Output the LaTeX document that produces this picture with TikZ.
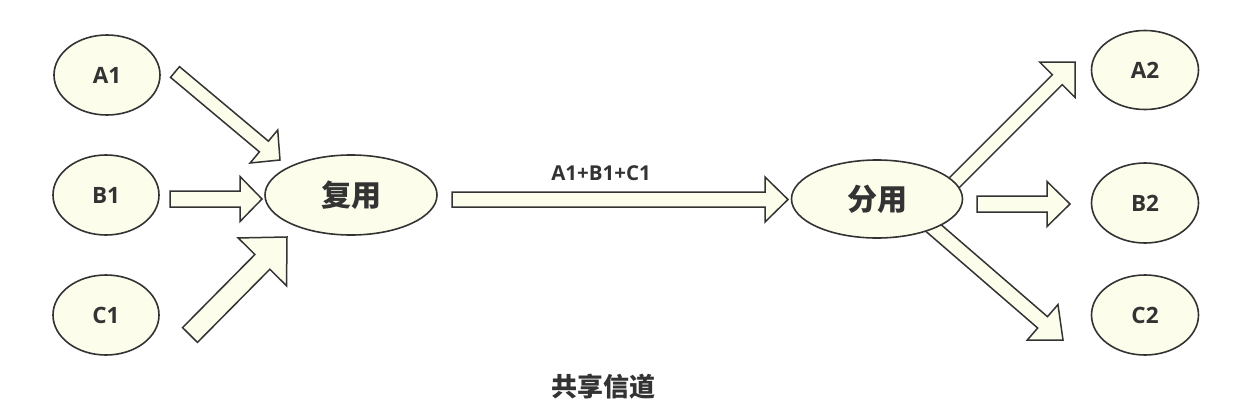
\documentclass[tikz,border=0pt]{standalone}
\usepackage{fontspec}
\setmainfont{Open Sans}
\newfontfamily\cjk{Noto Sans CJK SC}
\usetikzlibrary{shapes.geometric,calc}
\definecolor{cream}{HTML}{FDFDEC}
\definecolor{ink}{HTML}{333333}
\tikzset{
  ell/.style={ellipse,draw=ink,fill=cream,line width=1.6pt,inner sep=0pt,text=ink,font=\bfseries\fontsize{22.5}{22.5}\selectfont},
  bigell/.style={ell,font=\cjk\bfseries\fontsize{30}{30}\selectfont},
  barrow/.style={draw=ink,fill=cream,line width=1.5pt,line join=miter},
  lbl/.style={text=ink,inner sep=0pt}
}
\newcommand\blockarr[5]{%
  \coordinate (tmpX) at ($(#2)!#5!(#1)$);
  \draw[barrow] ($(#1)!#3!90:(#2)$) -- ($(tmpX)!#3!-90:(#1)$) -- ($(tmpX)!#4!-90:(#1)$) -- (#2)
     -- ($(tmpX)!#4!90:(#1)$) -- ($(tmpX)!#3!90:(#1)$) -- ($(#1)!#3!-90:(#2)$) -- cycle;}
\begin{document}
\begin{tikzpicture}[x=1pt,y=-1pt]
\useasboundingbox[fill=white] (0,0) rectangle (1253,415);
% coordinates for arrow ends
\coordinate (sa1) at (175,72);  \coordinate (ta1) at (280,160);
\coordinate (sb1) at (170,199); \coordinate (tb1) at (262,199);
\coordinate (sc1) at (190,335); \coordinate (tc1) at (287,237);
\coordinate (sm) at (452,199.5); \coordinate (tm) at (788,199.5);
\coordinate (sa2) at (952,185); \coordinate (ta2) at (1075,62);
\coordinate (sb2) at (977,204); \coordinate (tb2) at (1070,204);
\coordinate (sc2) at (930,225); \coordinate (tc2) at (1063,340);
% arrows
\blockarr{sa1}{ta1}{7pt}{21.5pt}{21pt}
\blockarr{sb1}{tb1}{8pt}{22.5pt}{22pt}
\blockarr{sc1}{tc1}{10.5pt}{34pt}{35pt}
\blockarr{sm}{tm}{7.5pt}{22.5pt}{23pt}
\blockarr{sa2}{ta2}{7pt}{25pt}{25pt}
\blockarr{sb2}{tb2}{8pt}{22.5pt}{23pt}
\blockarr{sc2}{tc2}{7.5pt}{23.5pt}{27pt}
% nodes
\node[ell,minimum width=106pt,minimum height=80pt] (A1) at (107,75) {A1};
\node[ell,minimum width=106pt,minimum height=80pt] (B1) at (106,195) {B1};
\node[ell,minimum width=106pt,minimum height=80pt] (C1) at (106,315) {C1};
\node[bigell,minimum width=172pt,minimum height=80pt] (mux) at (351,195) {复用};
\node[bigell,minimum width=171pt,minimum height=78pt] (demux) at (877,199) {分用};
\node[ell,minimum width=107pt,minimum height=79pt] (A2) at (1145,70) {A2};
\node[ell,minimum width=107pt,minimum height=80pt] (B2) at (1145,203) {B2};
\node[ell,minimum width=107pt,minimum height=80pt] (C2) at (1145,315) {C2};
\node[lbl,font=\bfseries\fontsize{20.5}{20.5}\selectfont] (sum) at (601,173) {A1+B1+C1};
\node[lbl,font=\cjk\bfseries\fontsize{26}{26}\selectfont] (chan) at (603,387) {共享信道};
\end{tikzpicture}
\end{document}
